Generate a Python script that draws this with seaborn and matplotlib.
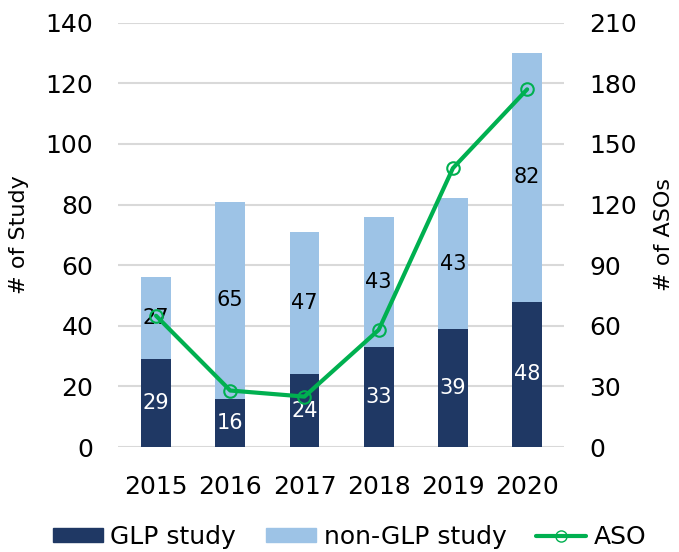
import numpy as np
import pandas as pd
import matplotlib
matplotlib.use("Agg")
import matplotlib.pyplot as plt
from matplotlib.patches import Patch
from matplotlib.lines import Line2D
import seaborn as sns

years = ["2015", "2016", "2017", "2018", "2019", "2020"]
glp = [29, 16, 24, 33, 39, 48]
non_glp = [27, 65, 47, 43, 43, 82]
aso = [65, 28, 25, 58, 138, 177]

NAVY = "#1F3864"
LIGHT = "#9DC3E6"
GREEN = "#00B050"

sns.set_theme(style="white")
plt.rcParams["font.family"] = ["DejaVu Sans"]
plt.rcParams["text.color"] = "black"
plt.rcParams["xtick.color"] = "black"
plt.rcParams["ytick.color"] = "black"
plt.rcParams["axes.labelcolor"] = "black"

df = pd.DataFrame({"year": years, "glp": glp, "non_glp": non_glp})
df["total"] = df["glp"] + df["non_glp"]

fig = plt.figure(figsize=(6.79, 5.52), dpi=100)
ax = fig.add_axes([0.174, 0.190, 0.657, 0.769])

# stacked bars: total in light blue, GLP part drawn over it
sns.barplot(data=df, x="year", y="total", color=LIGHT, width=0.4, ax=ax,
            saturation=1, linewidth=0)
sns.barplot(data=df, x="year", y="glp", color=NAVY, width=0.4, ax=ax,
            saturation=1, linewidth=0)

for i, (g, n) in enumerate(zip(glp, non_glp)):
    ax.text(i, g / 2, str(g), ha="center", va="center", color="white", fontsize=15)
    ax.text(i, g + n / 2, str(n), ha="center", va="center", color="black", fontsize=15)

ax.set_ylim(0, 140)
ax.set_yticks(range(0, 141, 20))
ax.set_xlim(-0.51, 5.5)
ax.set_xlabel("")
ax.set_ylabel("# of Study", fontsize=16, labelpad=12)
ax.yaxis.grid(True, color="#D9D9D9", linewidth=1.5)
ax.set_axisbelow(True)
ax.tick_params(axis="y", labelsize=18, length=0, pad=18)
ax.tick_params(axis="x", labelsize=18, length=0, pad=20)
for s in ax.spines.values():
    s.set_visible(False)

ax2 = ax.twinx()
sns.lineplot(x=np.arange(len(years)), y=aso, ax=ax2, color=GREEN, linewidth=3,
             marker="o", markersize=9, markerfacecolor="none",
             markeredgecolor=GREEN, markeredgewidth=1.5)
ax2.set_ylim(0, 210)
ax2.set_yticks(range(0, 211, 30))
ax2.set_ylabel("# of ASOs", fontsize=16, labelpad=12)
ax2.tick_params(axis="y", labelsize=18, length=0, pad=18)
for s in ax2.spines.values():
    s.set_visible(False)

handles = [
    Patch(color=NAVY, label="GLP study"),
    Patch(color=LIGHT, label="non-GLP study"),
    Line2D([], [], color=GREEN, linewidth=3, marker="o", markersize=8,
           markerfacecolor="none", markeredgecolor=GREEN, label="ASO"),
]
fig.legend(handles=handles, loc="center", bbox_to_anchor=(0.515, 0.027), ncol=3,
           frameon=False, fontsize=18, handlelength=2.0, handleheight=0.5,
           columnspacing=1.2, handletextpad=0.3)

fig.savefig("out.png", dpi=100)
